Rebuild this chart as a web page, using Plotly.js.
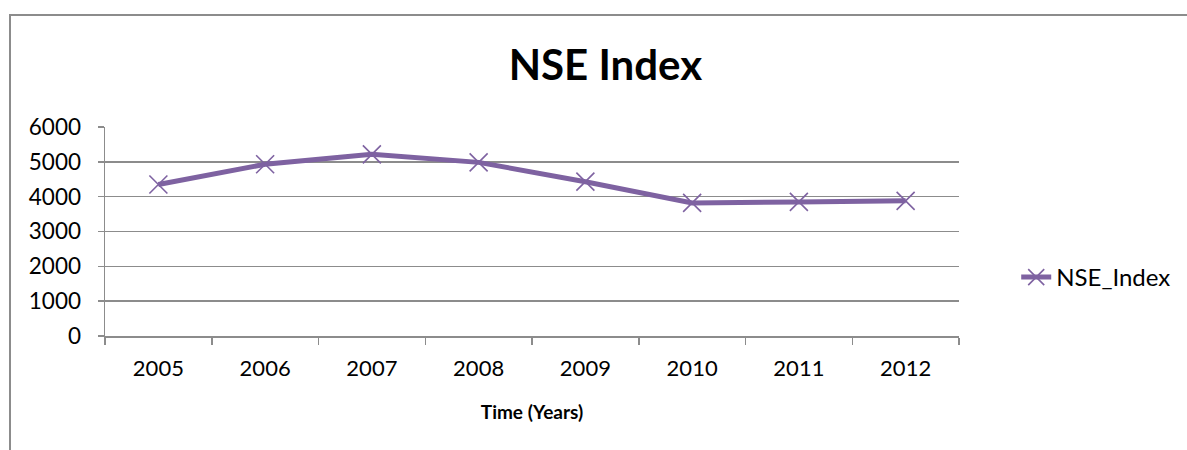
<!DOCTYPE html>
<html>
<head>
<meta charset="utf-8">
<script src="https://cdn.plot.ly/plotly-3.0.1.min.js"></script>
<style>
  html, body { margin: 0; padding: 0; background: #fff; }
  #wrap { position: relative; width: 1187px; height: 450px; overflow: hidden; }
  #chart { width: 1187px; height: 450px; }
  #frame { position: absolute; left: 9px; top: 14px; width: 1190px; height: 450px;
           border-left: 2px solid #8c8c8c; border-top: 2px solid #8c8c8c; pointer-events: none; }
</style>
</head>
<body>
<div id="wrap">
  <div id="chart"></div>
  <div id="frame"></div>
</div>
<script>
const years = ["2005", "2006", "2007", "2008", "2009", "2010", "2011", "2012"];
const nseIndex = [4350, 4930, 5215, 4985, 4430, 3820, 3850, 3880];
const seriesName = "NSE_Index";
const chartTitle = "NSE Index";
const xTitle = "Time (Years)";

const FONT = "Lato, 'Open Sans', sans-serif";
const purple = "#7E62A1";

Plotly.newPlot("chart", [{
  type: "scatter",
  mode: "lines+markers",
  x: years,
  y: nseIndex,
  name: seriesName,
  line: { color: purple, width: 5 },
  marker: { symbol: "x-thin-open", size: 18, color: purple, line: { color: purple, width: 1.6 } },
  showlegend: true
}], {
  width: 1187, height: 450,
  margin: { l: 105, r: 228, t: 127, b: 114, autoexpand: false },
  paper_bgcolor: "#fff", plot_bgcolor: "#fff",
  font: { family: FONT, color: "#000", size: 22 },
  title: { text: "<b>" + chartTitle + "</b>", x: 0.51, xanchor: "center", y: 0.855, yanchor: "middle",
           font: { family: FONT, size: 42, color: "#000" } },
  xaxis: {
    type: "category", range: [-0.5, 7.5],
    tickson: "boundaries", ticks: "outside", ticklen: 7, tickwidth: 1.5, tickcolor: "#8c8c8c",
    showline: true, linecolor: "#8c8c8c", linewidth: 1.5,
    showgrid: false, zeroline: false,
    ticklabelstandoff: 12,
    tickfont: { family: FONT, size: 22, color: "#000" },
    title: { text: "<b>" + xTitle + "</b>", font: { family: FONT, size: 19, color: "#000" }, standoff: 26 }
  },
  yaxis: {
    range: [0, 6000], dtick: 1000, tick0: 0,
    ticks: "outside", ticklen: 6, tickwidth: 1.5, tickcolor: "#8c8c8c",
    showline: true, linecolor: "#8c8c8c", linewidth: 1.5,
    showgrid: true, gridcolor: "#8c8c8c", gridwidth: 1.6,
    zeroline: false,
    ticklabelstandoff: 12,
    tickfont: { family: FONT, size: 22.5, color: "#000" }
  },
  legend: {
    x: 1.067, xanchor: "left", y: 0.28, yanchor: "middle",
    font: { family: FONT, size: 24, color: "#000" },
    bgcolor: "rgba(0,0,0,0)"
  }
}, { displayModeBar: false, staticPlot: true });
</script>
</body>
</html>
